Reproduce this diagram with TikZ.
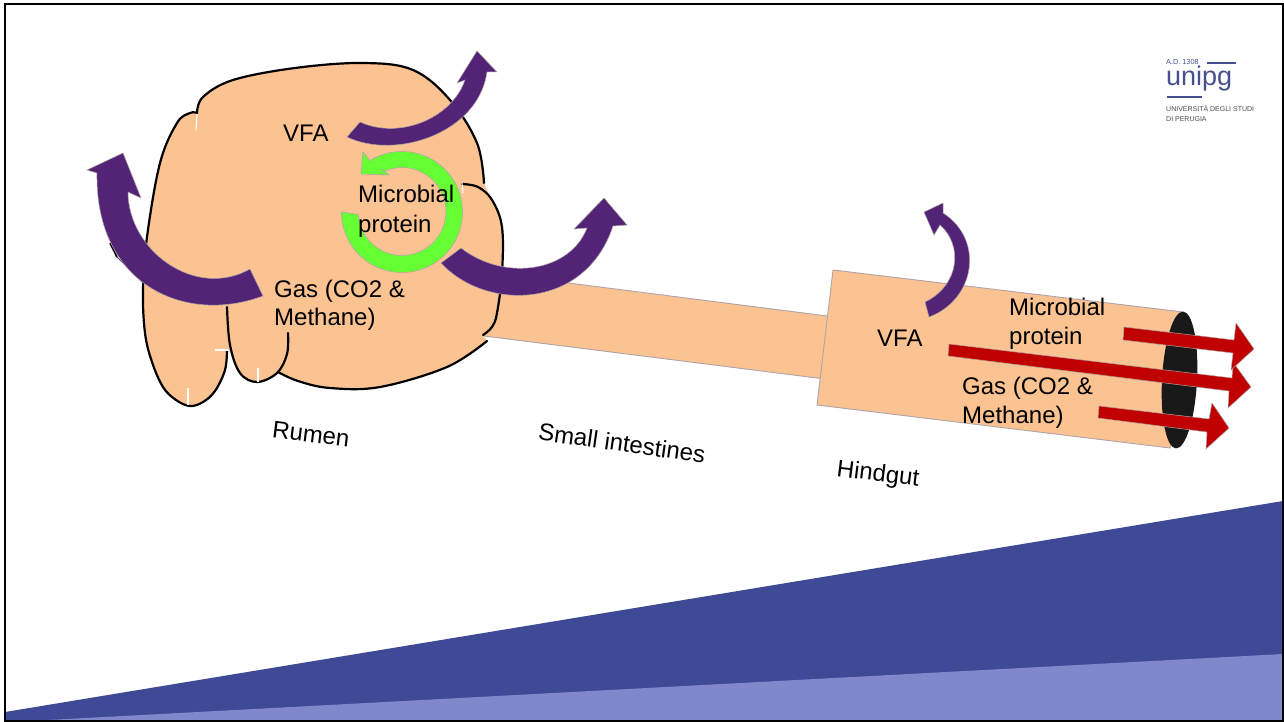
\documentclass[tikz,border=0pt]{standalone}
\usepackage{fontspec}
\setmainfont{Liberation Sans}
\definecolor{gutfill}{HTML}{FBC392}
\definecolor{gutedge}{HTML}{B0A4A8}
\definecolor{vfapurple}{HTML}{532476}
\definecolor{loopgreen}{HTML}{66FF33}
\definecolor{outred}{HTML}{C00000}
\definecolor{navy}{HTML}{3F4A97}
\definecolor{lavender}{HTML}{8088CC}
\definecolor{logoblue}{HTML}{46508F}
\tikzset{
  x=1pt,y=-1pt,
  organ/.style={fill=gutfill,draw=gutedge,line width=0.9pt},
  wall/.style={draw=black,line width=2.2pt,line cap=round,line join=round},
  nick/.style={draw=white,line width=1.1pt},
  fluxarrow/.style={fill=vfapurple,draw=gutedge,line width=0.5pt,line join=miter},
  looparrow/.style={fill=loopgreen,draw=gutedge,line width=0.5pt,line join=miter},
  exitarrow/.style={fill=outred,draw=gutedge,line width=0.5pt,line join=miter},
  label/.style={anchor=base west,inner sep=0pt,font=\fontsize{24}{28}\selectfont,text=black},
  tilted/.style={anchor=center,inner sep=0pt,font=\fontsize{24}{28}\selectfont,text=black},
  curve/.style={smooth,tension=.6},
}
% Outline pieces of the stomach
\def\rumenTop{plot[curve] coordinates {(197,113)(203,97)(233,80)(295,68)(363,63)(413,70)(450,100)(477,143)(484,183)}}
\def\rumenLobe{plot[curve] coordinates {(462,184)(478,187)(492,200)(502,227)(502,273)(497,313)(492,327)(483,335)}}
\def\rumenBase{plot[curve] coordinates {(487,341)(447,367)(380,387)(330,388)(298,381)(278,372)}}
\def\pouchSmall{plot[curve] coordinates {(288,333)(287,354)(277,373)(257,382)(240,373)(230,345)(227,307)}}
\def\pouchLarge{plot[curve] coordinates {(227,350)(225,370)(215,391)(203,402)(190,406)(176,400)(163,387)(152,362)(145,333)(143,290)(147,237)(160,163)(177,123)(190,113)(197,113)}}
\begin{document}
\begin{tikzpicture}
\useasboundingbox (0,0) rectangle (1284,722);
\fill[white] (0,0) rectangle (1284,722);

% Corner wedges
\fill[navy] (5,712) -- (1283,501) -- (1283,720) -- (5,720) -- cycle;
\fill[lavender] (48,720) -- (1283,654) -- (1283,720) -- cycle;

% Small intestine and hindgut
\path[organ] (490,273) -- (835,317) -- (825,379) -- (484,336) -- cycle;
\path[organ] (833,270) -- (1183,312) -- (1170,448) -- (817,405) -- cycle;
\fill[black!90] (1179.5,380) ellipse[x radius=17.5,y radius=68.5,rotate=-3];

% Stomach body
\fill[gutfill] \rumenTop
  -- plot[curve] coordinates {(490,197)(502,227)(502,273)(497,313)(492,327)(483,335)}
  -- plot[curve] coordinates {(487,341)(447,367)(380,387)(330,388)(298,381)(278,372)}
  -- plot[curve] coordinates {(277,373)(257,382)(240,373)(230,352)}
  -- plot[curve] coordinates {(227,350)(225,370)(215,391)(203,402)(190,406)(176,400)(163,387)(152,362)(145,333)(143,290)(147,237)(160,163)(177,123)(190,113)(197,113)} -- cycle;
\draw[wall] \rumenTop;
\draw[wall] \rumenLobe;
\draw[wall] \rumenBase;
\draw[wall] \pouchSmall;
\draw[wall] \pouchLarge;
\draw[draw=black,line width=1.6pt] (110,243) -- (117,257);
\draw[draw=black!70,line width=0.8pt] (117,257) -- (143,283);
\draw[nick] (197,114) -- (196,130);
\draw[nick] (215,350) -- (229,350);
\draw[nick] (258,368) -- (258,382);
\draw[nick] (188,388) -- (188,405);
\draw[nick] (462,183) -- (463,193);

% Recycling loop
\path[looparrow] plot[domain=180:-122,samples=80] ({402+60.5*cos(\x)},{212+60.5*sin(\x)})
  -- (363,152) -- (361,174) -- (389,175) -- (382,169)
  -- plot[domain=-115:176,samples=80] ({402+44*cos(\x)},{211.5+44*sin(\x)}) -- cycle;

% Absorption arrows
\path[fluxarrow] (347,137) .. controls (395,160) and (478,134) .. (487,72)
  -- (497,72) -- (477,51) -- (457,83) -- (465,80)
  .. controls (452,118) and (400,140) .. (360,122) -- cycle;
\path[fluxarrow] (263,296) .. controls (185,325) and (95,285) .. (97,173)
  -- (87,170) -- (123,153) -- (141,198) -- (128,192)
  .. controls (128,250) and (195,300) .. (250,269) -- cycle;
\path[fluxarrow] (441,263) .. controls (485,311) and (585,311) .. (613,226)
  -- (627,225) -- (604,198) -- (574,229) -- (587,228)
  .. controls (570,272) and (505,282) .. (461,248) -- cycle;
\path[fluxarrow] (929,317) .. controls (975,300) and (985,240) .. (943,213)
  -- (943,203) -- (924,212) -- (934,235) -- (940,225)
  .. controls (963,245) and (960,285) .. (925,302) -- cycle;

% Outflow arrows
\path[exitarrow] (949,344) -- (1232,378) -- (1233,362) -- (1251,387) -- (1228,408) -- (1229,391) -- (948,356) -- cycle;
\path[exitarrow] (1124,327) -- (1234,340) -- (1236,323) -- (1254,349) -- (1231,370) -- (1233,353) -- (1123,340) -- cycle;
\path[exitarrow] (1099,406) -- (1209,419) -- (1212,403) -- (1229,428) -- (1206,449) -- (1207,432) -- (1098,418) -- cycle;

% Labels in the stomach
\node[label] (vfaA) at (283,142) {VFA};
\node[label] (mpA) at (358,203) {Microbial};
\node[label] (mpB) at (358,232) {protein};
\node[label] (gasA) at (274,297) {Gas (CO2 \&};
\node[label] (gasB) at (274,325) {Methane)};

% Labels in the hindgut
\node[label] (vfaC) at (877,346) {VFA};
\node[label] (mpC) at (1009,315) {Microbial};
\node[label] (mpD) at (1009,344) {protein};
\node[label] (gasC) at (962,394) {Gas (CO2 \&};
\node[label] (gasD) at (962,423) {Methane)};

% Section names
\node[tilted,rotate=-7] (rumen) at (311,434) {Rumen};
\node[tilted,rotate=-8] (small) at (622,443) {Small intestines};
\node[tilted,rotate=-7] (hind) at (878,475) {Hindgut};

% University mark
\node[anchor=base west,inner sep=0pt,text=logoblue,font=\fontsize{7.3}{8}\selectfont] (logoA) at (1166,65) {A.D. 1308};
\draw[logoblue,line width=1.4pt] (1207,63) -- (1236,63);
\node[anchor=base west,inner sep=0pt,text=logoblue,font=\fontsize{27}{30}\selectfont] (logoB) at (1166,86) {unipg};
\draw[logoblue,line width=1.6pt] (1167,97) -- (1202,97);
\node[anchor=base west,inner sep=0pt,text=black!70,font=\fontsize{7}{8}\selectfont] (logoC) at (1166,112) {UNIVERSITÀ DEGLI STUDI};
\node[anchor=base west,inner sep=0pt,text=black!70,font=\fontsize{7}{8}\selectfont] (logoD) at (1166,122) {DI PERUGIA};

% Slide frame
\draw[black,line width=2pt] (4.5,4) rectangle (1282.5,720.5);
\end{tikzpicture}
\end{document}
